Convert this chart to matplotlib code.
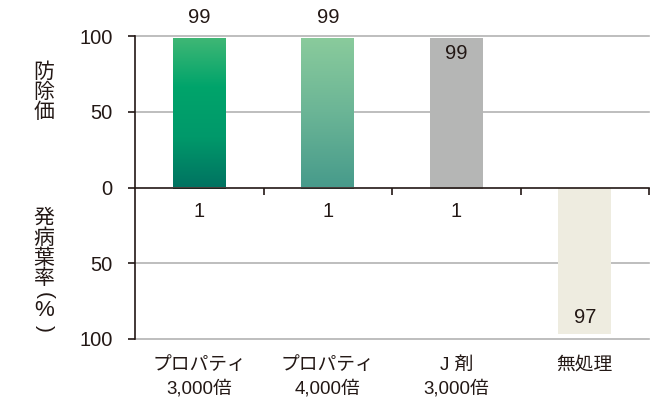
import numpy as np
import matplotlib
matplotlib.use("Agg")
import matplotlib.pyplot as plt
from matplotlib.colors import LinearSegmentedColormap
import matplotlib.transforms as mtransforms

plt.rcParams['font.family'] = ['Liberation Sans', 'Noto Sans CJK JP', 'DejaVu Sans']

categories = ["プロパティ\n3,000倍", "プロパティ\n4,000倍", "J 剤\n3,000倍", "無処理"]
control_value = [99, 99, 99, None]      # 防除価
disease_rate = [1, 1, 1, 97]           # 発病葉率(%)
yticks = [100, 50, 0, -50, -100]
ytick_labels = ["100", "50", "0", "50", "100"]

TXT = "#231815"
fig = plt.figure(figsize=(6.67, 4.01), dpi=100)
ax = fig.add_axes([135/667, 1-339/401, (649-135)/667, (339-36)/401])

x = np.arange(len(categories))
width = 0.41

top_styles = [
    LinearSegmentedColormap.from_list("g1", ["#007361", "#00996a", "#00a46b", "#40b775"]),
    LinearSegmentedColormap.from_list("g2", ["#479b8b", "#6bb596", "#8acb9c"]),
    None,
]
top_flat = ["#00a06a", "#70b996", "#b5b6b5", "#eeece0"]
bottom_flat = ["#007361", "#479b8b", "#b5b6b5", "#eeece0"]

ax.set_xlim(-0.5, 3.5)
ax.set_ylim(-100, 100)

grad = np.linspace(0, 1, 256).reshape(-1, 1)
for i, v in enumerate(control_value):
    if v is None:
        continue
    b = ax.bar(x[i], v, width=width, color=top_flat[i], zorder=2)[0]
    if i < len(top_styles) and top_styles[i] is not None:
        b.set_facecolor("none")
        im = ax.imshow(grad, cmap=top_styles[i], aspect="auto", origin="lower",
                       extent=[x[i]-width/2, x[i]+width/2, 0, v], zorder=2)
        im.set_clip_path(b)

for i, v in enumerate(disease_rate):
    ax.bar(x[i], -v, width=width, color=bottom_flat[i], zorder=2)

ax.set_xlim(-0.5, 3.5)
ax.set_ylim(-100, 100)

# grid
for g in [100, 50, -50, -100]:
    ax.axhline(g, color="#b3b3b3", lw=1.2, zorder=1, clip_on=False)

for s in ["top", "right"]:
    ax.spines[s].set_visible(False)
ax.spines["left"].set_color(TXT)
ax.spines["left"].set_linewidth(1.2)
ax.spines["bottom"].set_position(("data", 0))
ax.spines["bottom"].set_color(TXT)
ax.spines["bottom"].set_linewidth(1.2)
ax.spines["bottom"].set_zorder(3)

ax.set_xticks([0.5, 1.5, 2.5, 3.5])
ax.set_xticklabels([])
ax.tick_params(axis="x", direction="out", length=5, width=1.2, color=TXT)
ax.set_yticks(yticks)
ax.set_yticklabels(ytick_labels)
ax.tick_params(axis="y", direction="out", length=5, width=1.2, color=TXT,
               labelsize=14.5, labelcolor=TXT, pad=11)

offset = lambda dy: mtransforms.offset_copy(ax.transData, fig=fig, y=dy, units="dots")

FS = 14.5
# value labels
for i, v in enumerate(control_value):
    if v is None:
        continue
    dy = 20 if i < 2 else -16
    ax.text(x[i], v, str(v), transform=offset(dy), ha="center", va="center",
            fontsize=FS, color=TXT)
for i, v in enumerate(disease_rate):
    dy = -22 if v < 50 else 17
    ax.text(x[i], -v, str(v), transform=offset(dy), ha="center", va="center",
            fontsize=FS, color=TXT)

# category labels
for i, c in enumerate(categories):
    ax.text(x[i], -100, c, transform=offset(-18), ha="center", va="top",
            fontsize=13.5, color=TXT, linespacing=1.45)

# y labels (stacked vertical)
jp = ['Noto Sans CJK JP', 'Liberation Sans']
for ch, yc in zip("防除価", [72, 92, 112]):
    fig.text(44/667, 1-yc/401, ch, ha="center", va="center", fontsize=15,
             color=TXT, family=jp)
for ch, yc in zip("発病葉率", [218, 238, 258, 278]):
    fig.text(44/667, 1-yc/401, ch, ha="center", va="center", fontsize=15,
             color=TXT, family=jp)
fig.text(44/667, 1-295/401, "(", ha="center", va="center", rotation=-90,
         fontsize=15, color=TXT, family=['Liberation Sans'])
fig.text(44/667, 1-311/401, "%", ha="center", va="center",
         fontsize=16, color=TXT, family=['Liberation Sans'])
fig.text(44/667, 1-328/401, ")", ha="center", va="center", rotation=-90,
         fontsize=15, color=TXT, family=['Liberation Sans'])

fig.savefig("out.png", dpi=100)
